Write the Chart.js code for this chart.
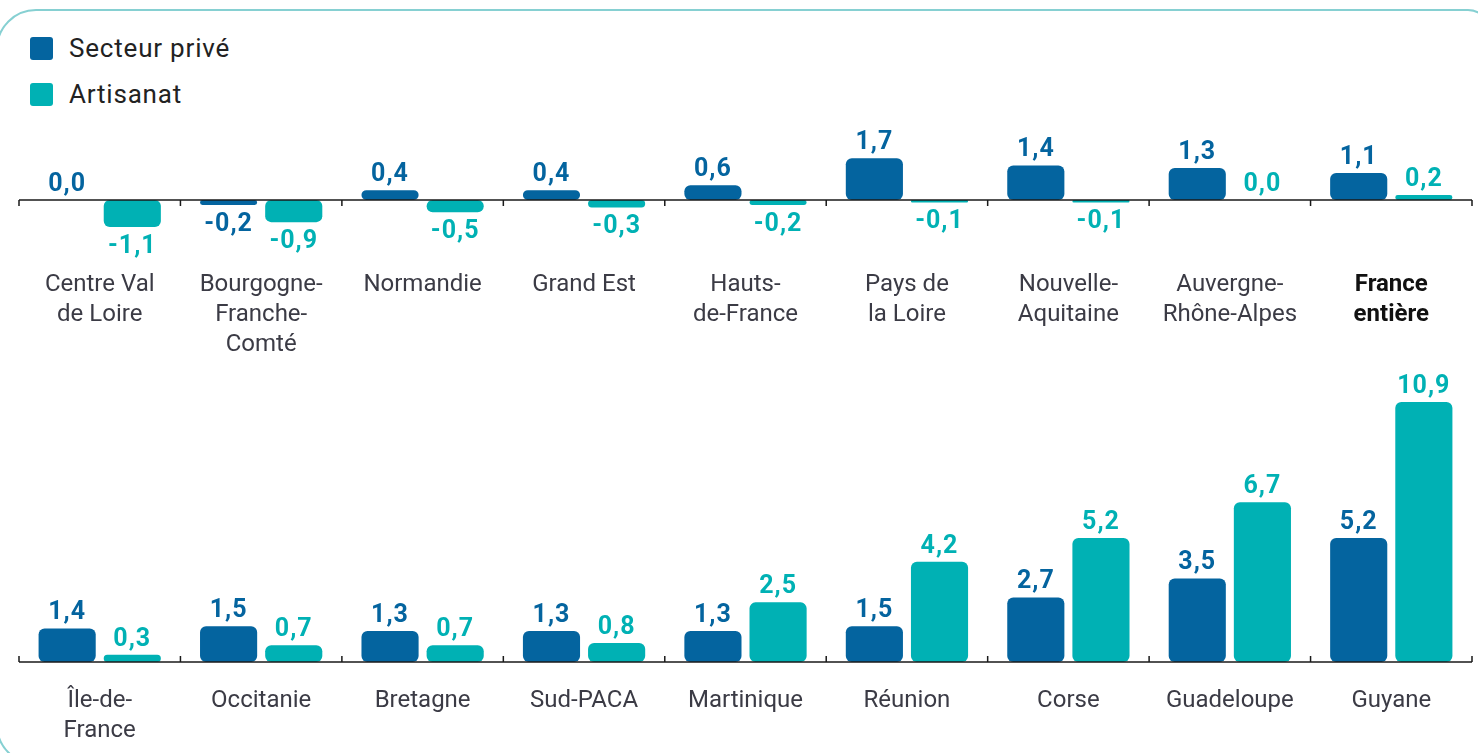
<!DOCTYPE html>
<html lang="fr">
<head>
<meta charset="utf-8">
<script src="https://cdn.jsdelivr.net/npm/chart.js@4/dist/chart.umd.min.js"></script>
<style>
  html, body { margin: 0; padding: 0; background: #fff; }
  #wrap { position: relative; width: 1478px; height: 753px; overflow: hidden; font-family: Roboto, sans-serif; }
  #frame { position: absolute; left: -4px; top: 9px; width: 1494px; height: 756px;
           border: 2px solid #86d0d2; border-radius: 40px 22px 22px 40px; box-sizing: border-box; }
  #legend { position: absolute; left: 30px; top: 25px; }
  .item { display: flex; align-items: center; height: 46px; font-size: 26px; letter-spacing: 0.8px; color: #222; }
  .sw { width: 23px; height: 23px; border-radius: 3px; margin-right: 16px; }
  .box { position: absolute; left: 0; width: 1478px; }
</style>
</head>
<body>
<div id="wrap">
  <div id="frame"></div>
  <div id="legend"></div>
  <div class="box" style="top:121px;height:250px"><canvas id="top"></canvas></div>
  <div class="box" style="top:351px;height:402px"><canvas id="bottom"></canvas></div>
</div>
<script>
const seriesNames = ['Secteur privé', 'Artisanat'];
const seriesColors = ['#04649f', '#00b1b4'];

const topCategories = [
    ['Centre Val', 'de Loire'], ['Bourgogne-', 'Franche-', 'Comté'], 'Normandie', 'Grand Est',
    ['Hauts-', 'de-France'], ['Pays de', 'la Loire'], ['Nouvelle-', 'Aquitaine'],
    ['Auvergne-', 'Rhône-Alpes'], ['France', 'entière']
];
const topPrive = [0.0, -0.2, 0.4, 0.4, 0.6, 1.7, 1.4, 1.3, 1.1];
const topArtisanat = [-1.1, -0.9, -0.5, -0.3, -0.2, -0.1, -0.1, 0.0, 0.2];

const bottomCategories = [
    ['Île-de-', 'France'], 'Occitanie', 'Bretagne', 'Sud-PACA', 'Martinique',
    'Réunion', 'Corse', 'Guadeloupe', 'Guyane'
];
const bottomPrive = [1.4, 1.5, 1.3, 1.3, 1.3, 1.5, 2.7, 3.5, 5.2];
const bottomArtisanat = [0.3, 0.7, 0.7, 0.8, 2.5, 4.2, 5.2, 6.7, 10.9];

// legend
const legend = document.getElementById('legend');
seriesNames.forEach((name, i) => {
    const item = document.createElement('div');
    item.className = 'item';
    item.innerHTML = '<span class="sw" style="background:' + seriesColors[i] + '"></span>' + name;
    legend.appendChild(item);
});

// value labels above / below the bars
const valueLabels = {
    id: 'valueLabels',
    afterDatasetsDraw(chart) {
        const ctx = chart.ctx;
        ctx.save();
        ctx.font = 'bold 25px Roboto';
        ctx.letterSpacing = '1px';
        ctx.textAlign = 'center';
        chart.data.datasets.forEach((ds, di) => {
            const meta = chart.getDatasetMeta(di);
            ctx.fillStyle = ds.backgroundColor;
            meta.data.forEach((bar, i) => {
                const v = ds.data[i];
                const txt = v.toFixed(1).replace('.', ',');
                if (v < 0) {
                    ctx.textBaseline = 'top';
                    ctx.fillText(txt, bar.x, bar.y + 7);
                } else {
                    ctx.textBaseline = 'bottom';
                    ctx.fillText(txt, bar.x, bar.y - 3);
                }
            });
        });
        ctx.restore();
    }
};

// zero line with small ticks between categories
function zeroAxis(tickDir) {
    return {
        id: 'zeroAxis',
        afterDatasetsDraw(chart) {
            const ctx = chart.ctx;
            const x = chart.scales.x, y = chart.scales.y;
            const y0 = y.getPixelForValue(0);
            const step = x.getPixelForValue(1) - x.getPixelForValue(0);
            ctx.save();
            ctx.strokeStyle = '#1a1a1a';
            ctx.lineWidth = 1.5;
            ctx.beginPath();
            ctx.moveTo(chart.chartArea.left, y0);
            ctx.lineTo(chart.chartArea.right, y0);
            for (let i = 0; i <= x.ticks.length; i++) {
                const px = x.getPixelForValue(0) - step / 2 + i * step;
                ctx.moveTo(px, y0);
                ctx.lineTo(px, y0 + tickDir * 6);
            }
            ctx.stroke();
            ctx.restore();
        }
    };
}

function makeChart(id, labels, prive, artisanat, yMin, yMax, axisHeight, tickPad, tickDir) {
    return new Chart(document.getElementById(id), {
        type: 'bar',
        data: {
            labels: labels,
            datasets: [{
                label: seriesNames[0],
                data: prive,
                backgroundColor: seriesColors[0]
            }, {
                label: seriesNames[1],
                data: artisanat,
                backgroundColor: seriesColors[1]
            }]
        },
        options: {
            responsive: true,
            maintainAspectRatio: false,
            animation: false,
            layout: { padding: { left: 19, right: 6, top: 20, bottom: 0 } },
            datasets: {
                bar: {
                    categoryPercentage: 0.807,
                    barPercentage: 0.877,
                    borderRadius: 6,
                    borderSkipped: false
                }
            },
            plugins: {
                legend: { display: false },
                tooltip: { enabled: false }
            },
            scales: {
                x: {
                    grid: { display: false, drawTicks: false },
                    border: { display: false },
                    ticks: {
                        padding: tickPad,
                        maxRotation: 0,
                        autoSkip: false,
                        color: c => (labels[c.index] && labels[c.index][0] === 'France') ? '#111' : '#3b3b45',
                        font: c => ({
                            family: 'Roboto',
                            size: 24,
                            lineHeight: 1.25,
                            weight: (labels[c.index] && labels[c.index][0] === 'France') ? 'bold' : 'normal'
                        })
                    },
                    afterFit(scale) { scale.height = axisHeight; }
                },
                y: {
                    display: false,
                    min: yMin,
                    max: yMax
                }
            }
        },
        plugins: [valueLabels, zeroAxis(tickDir)]
    });
}

makeChart('top', topCategories, topPrive, topArtisanat, -2.4, 2.4, 112, 11, 1);
makeChart('bottom', bottomCategories, bottomPrive, bottomArtisanat, 0, 12.2, 91, 24, -1);
</script>
</body>
</html>
